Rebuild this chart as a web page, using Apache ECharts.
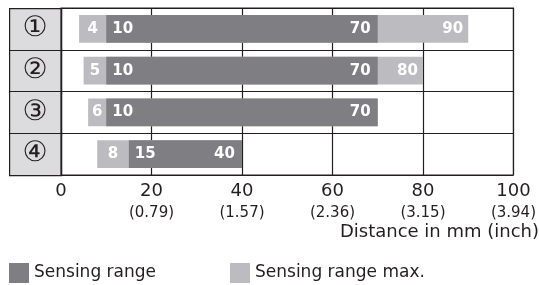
<!DOCTYPE html>
<html>
<head>
<meta charset="utf-8">
<script src="https://cdn.jsdelivr.net/npm/echarts@6/dist/echarts.min.js"></script>
<style>
  html, body { margin: 0; padding: 0; background: #fff; }
  #chart-container { width: 539px; height: 285px; }
</style>
</head>
<body>
<div id="chart-container"></div>
<script>
// rows and ranges (mm)
var rows = ['①', '②', '③', '④'];
var maxStart = [4, 5, 6, 8];
var rangeStart = [10, 10, 10, 15];
var rangeEnd = [70, 70, 70, 40];
var maxEnd = [90, 80, 70, 40];
var xTicks = [0, 20, 40, 60, 80, 100];
var inchLabels = ['', '(0.79)', '(1.57)', '(2.36)', '(3.15)', '(3.94)'];

var darkColor = '#7f7f83';
var lightColor = '#bcbcc0';
var textFont = 'DejaVu Sans';

var dom = document.getElementById('chart-container');
var myChart = echarts.init(dom, null, { renderer: 'canvas' });

var rowData = rows.map(function (r, i) {
    return [i, maxStart[i], rangeStart[i], rangeEnd[i], maxEnd[i]];
});

function barLabel(text, x, y, align) {
    return {
        type: 'text',
        z2: 10,
        style: {
            text: text,
            x: x,
            y: y,
            align: align,
            verticalAlign: 'middle',
            fill: '#fff',
            font: 'bold 15px "' + textFont + '"'
        }
    };
}

function renderMax(params, api) {
    var row = api.value(0);
    var s = api.value(1), e = api.value(4), rs = api.value(2), re = api.value(3);
    var h = api.size([0, 1])[1] * 0.67;
    var p0 = api.coord([s, row]);
    var p1 = api.coord([e, row]);
    var pr = api.coord([rs, row]);
    var children = [{
        type: 'rect',
        shape: { x: p0[0], y: p0[1] - h / 2, width: p1[0] - p0[0], height: h },
        style: { fill: lightColor }
    }];
    children.push(barLabel(String(s), (p0[0] + pr[0]) / 2, p0[1], 'center'));
    if (e > re) {
        children.push(barLabel(String(e), p1[0] - 5, p0[1], 'right'));
    }
    return { type: 'group', children: children };
}

function renderRange(params, api) {
    var row = api.value(0);
    var rs = api.value(2), re = api.value(3);
    var h = api.size([0, 1])[1] * 0.67;
    var p0 = api.coord([rs, row]);
    var p1 = api.coord([re, row]);
    return {
        type: 'group',
        children: [{
            type: 'rect',
            shape: { x: p0[0], y: p0[1] - h / 2, width: p1[0] - p0[0], height: h },
            style: { fill: darkColor }
        },
        barLabel(String(rs), p0[0] + 6, p0[1], 'left'),
        barLabel(String(re), p1[0] - 7, p0[1], 'right')]
    };
}

var option = {
    animation: false,
    textStyle: { fontFamily: textFont, color: '#231f20' },
    title: {
        text: 'Distance in mm (inch)',
        right: 0,
        top: 223,
        padding: 0,
        textStyle: { fontSize: 18, fontWeight: 'normal', color: '#231f20', fontFamily: textFont }
    },
    legend: {
        left: 9,
        top: 263,
        padding: 0,
        itemWidth: 20,
        itemHeight: 20,
        itemGap: 74,
        icon: 'rect',
        selectedMode: false,
        data: ['Sensing range', 'Sensing range max.'],
        textStyle: { fontSize: 17, color: '#231f20', fontFamily: textFont }
    },
    grid: { left: 61, right: 23, top: 8, bottom: 110, show: true, borderColor: '#231f20', borderWidth: 1.2, z: 5 },
    graphic: [{
        type: 'rect',
        left: 9,
        top: 8,
        z: -1,
        shape: { width: 52, height: 167 },
        style: { fill: '#dcdcde', stroke: '#231f20', lineWidth: 1.2 }
    }],
    xAxis: {
        type: 'value',
        min: 0,
        max: 100,
        interval: 20,
        axisLine: { show: false },
        axisTick: { show: false },
        splitLine: { show: true, lineStyle: { color: '#231f20', width: 1.2 } },
        axisLabel: {
            margin: 6,
            formatter: function (v) {
                var i = xTicks.indexOf(v);
                var inch = inchLabels[i];
                return inch ? '{a|' + v + '}\n{b|' + inch + '}' : '{a|' + v + '}';
            },
            rich: {
                a: { fontSize: 18, lineHeight: 20, color: '#231f20', fontFamily: textFont },
                b: { fontSize: 15, lineHeight: 25, color: '#231f20', fontFamily: textFont }
            },
            verticalAlign: 'top'
        }
    },
    yAxis: {
        type: 'category',
        inverse: true,
        data: rows,
        axisLine: { show: false },
        axisTick: { show: true, length: 52, lineStyle: { color: '#231f20', width: 1.2 } },
        splitLine: { show: true, lineStyle: { color: '#231f20', width: 1.2 } },
        axisLabel: {
            margin: 26,
            align: 'center',
            fontSize: 28,
            color: '#231f20',
            fontFamily: textFont
        }
    },
    series: [
        {
            name: 'Sensing range max.',
            type: 'custom',
            itemStyle: { color: lightColor },
            renderItem: renderMax,
            encode: { x: [1, 4], y: 0 },
            data: rowData,
            z: 2
        },
        {
            name: 'Sensing range',
            type: 'custom',
            itemStyle: { color: darkColor },
            renderItem: renderRange,
            encode: { x: [2, 3], y: 0 },
            data: rowData,
            z: 3
        }
    ]
};

myChart.setOption(option);
window.addEventListener('resize', myChart.resize);
</script>
</body>
</html>
